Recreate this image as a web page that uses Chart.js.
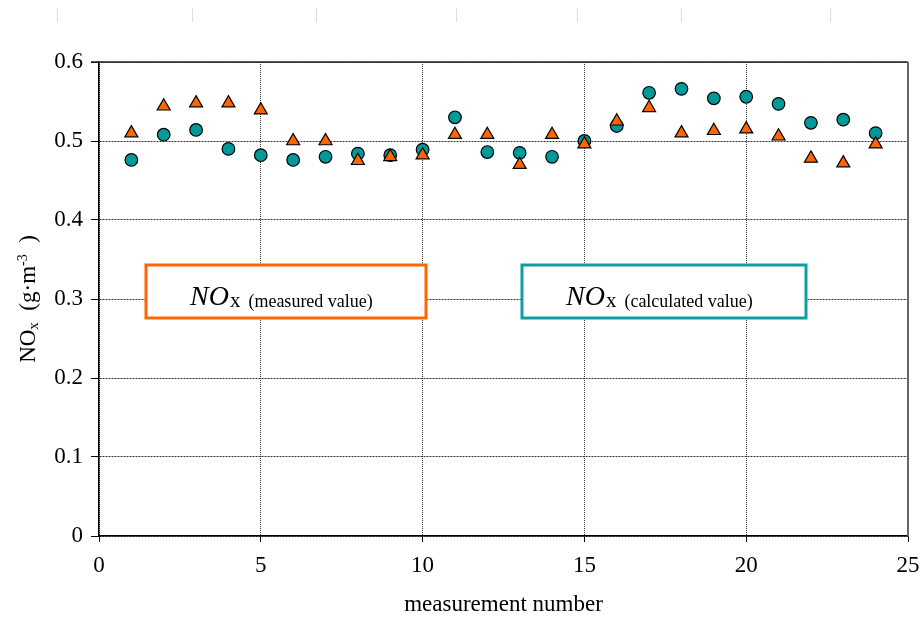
<!DOCTYPE html>
<html>
<head>
<meta charset="utf-8">
<script src="https://cdn.jsdelivr.net/npm/chart.js@4.4.1/dist/chart.umd.min.js"></script>
<style>
  html, body { margin: 0; padding: 0; background: #fff; }
  #wrap { width: 921px; height: 619px; }
</style>
</head>
<body>
<div id="wrap"><canvas id="c" width="921" height="619"></canvas></div>
<script>
const measurementNo = [1, 2, 3, 4, 5, 6, 7, 8, 9, 10, 11, 12, 13, 14, 15, 16, 17, 18, 19, 20, 21, 22, 23, 24];
const measuredNOx = [0.510, 0.544, 0.548, 0.548, 0.539, 0.500, 0.500, 0.475, 0.480, 0.482, 0.508, 0.508,
  0.470, 0.508, 0.496, 0.525, 0.542, 0.510, 0.513, 0.515, 0.506, 0.478, 0.472, 0.496];
const calculatedNOx = [0.476, 0.508, 0.514, 0.490, 0.482, 0.476, 0.480, 0.484, 0.482, 0.489, 0.530, 0.486,
  0.485, 0.480, 0.500, 0.519, 0.561, 0.566, 0.554, 0.556, 0.547, 0.523, 0.527, 0.510];
const xTicks = [0, 5, 10, 15, 20, 25];
const yTicks = [0, 0.1, 0.2, 0.3, 0.4, 0.5, 0.6];

const serif = '"Liberation Serif", "Times New Roman", serif';
const orange = '#ff6600';
const teal = '#009999';

const pts = vals => measurementNo.map((n, i) => ({ x: n, y: vals[i] }));

// boxes with labels, text with subscripts, frame lines
const extras = {
  id: 'extras',
  beforeDraw(chart) {
    const ctx = chart.ctx;
    ctx.save();
    ctx.strokeStyle = '#dcdcdc';
    ctx.lineWidth = 1;
    [57, 192, 316, 456, 577, 681, 830].forEach(x => {
      ctx.beginPath();
      ctx.moveTo(x + 0.5, 8);
      ctx.lineTo(x + 0.5, 22);
      ctx.stroke();
    });
    ctx.restore();
  },
  afterDatasetsDraw(chart) {
    const { ctx, chartArea: a } = chart;
    ctx.save();
    // frame: top dark, right grey
    ctx.lineWidth = 1.5;
    ctx.strokeStyle = '#222';
    ctx.beginPath();
    ctx.moveTo(a.left - 8, a.top);
    ctx.lineTo(a.right, a.top);
    ctx.stroke();
    ctx.strokeStyle = '#666';
    ctx.lineWidth = 2;
    ctx.beginPath();
    ctx.moveTo(a.right, a.top);
    ctx.lineTo(a.right, a.bottom);
    ctx.stroke();

    const box = (x, y, w, h, color, label) => {
      ctx.fillStyle = '#fff';
      ctx.fillRect(x, y, w, h);
      ctx.strokeStyle = color;
      ctx.lineWidth = 3;
      ctx.strokeRect(x, y, w, h);
      ctx.fillStyle = '#000';
      ctx.textBaseline = 'alphabetic';
      ctx.textAlign = 'left';
      let tx = x + 44;
      const by = y + 40;
      ctx.font = 'italic 28px ' + serif;
      ctx.fillText('NO', tx, by);
      tx += ctx.measureText('NO').width + 1;
      ctx.font = '21px ' + serif;
      ctx.fillText('x', tx, by + 2);
      tx += ctx.measureText('x').width + 8;
      ctx.font = '18px ' + serif;
      ctx.fillText(label, tx, by + 2);
    };
    box(146, 265, 280, 53, orange, '(measured value)');
    box(522, 265, 284, 53, '#119e9e', '(calculated value)');

    // y axis title
    ctx.translate(29, (a.top + a.bottom) / 2);
    ctx.rotate(-Math.PI / 2);
    const parts = [
      ['NO', '23px', 0],
      ['x', '15px', 5],
      ['  (g·m', '23px', 0],
      ['-3', '14px', -6],
      ['  )', '23px', 0]
    ];
    let total = 0;
    parts.forEach(p => { ctx.font = p[1] + ' ' + serif; total += ctx.measureText(p[0]).width; });
    let px = -total / 2;
    ctx.fillStyle = '#000';
    ctx.textBaseline = 'middle';
    parts.forEach(p => {
      ctx.font = p[1] + ' ' + serif;
      ctx.fillText(p[0], px, p[2]);
      px += ctx.measureText(p[0]).width;
    });
    ctx.restore();
  }
};

new Chart(document.getElementById('c'), {
  type: 'scatter',
  data: {
    datasets: [
      {
        label: 'NOx (measured value)',
        data: pts(measuredNOx),
        pointStyle: 'triangle',
        pointRadius: 7.5,
        pointHoverRadius: 7.5,
        backgroundColor: orange,
        borderColor: '#000',
        borderWidth: 1.2
      },
      {
        label: 'NOx (calculated value)',
        data: pts(calculatedNOx),
        pointStyle: 'circle',
        pointRadius: 6.3,
        pointHoverRadius: 6.3,
        backgroundColor: teal,
        borderColor: '#000',
        borderWidth: 1.2
      }
    ]
  },
  options: {
    responsive: false,
    animation: false,
    events: [],
    layout: { padding: { top: 62, right: 13, left: 0, bottom: 0 } },
    plugins: { legend: { display: false }, tooltip: { enabled: false } },
    scales: {
      x: {
        type: 'linear',
        min: 0,
        max: 25,
        afterBuildTicks: s => { s.ticks = xTicks.map(v => ({ value: v })); },
        afterFit: s => { s.height = 83; s.paddingLeft = 0; s.paddingRight = 0; },
        grid: { color: '#333', tickColor: '#000', tickLength: 6, tickBorderDash: [] },
        border: { color: '#000', width: 1.5, dash: [1, 1] },
        ticks: { color: '#000', padding: 10, font: { family: serif, size: 23 } },
        title: {
          display: true,
          text: 'measurement number',
          color: '#000',
          font: { family: serif, size: 23 },
          padding: { top: 0, bottom: 0 }
        }
      },
      y: {
        min: 0,
        max: 0.6,
        afterBuildTicks: s => { s.ticks = yTicks.map(v => ({ value: v })); },
        afterFit: s => { s.width = 99; s.paddingTop = 0; s.paddingBottom = 0; },
        grid: { color: '#333', tickColor: '#000', tickLength: 8, tickBorderDash: [] },
        border: { color: '#000', width: 1.5, dash: [2, 1] },
        ticks: {
          color: '#000',
          padding: 8,
          font: { family: serif, size: 23 },
          callback: v => (v === 0 ? '0' : v.toFixed(1))
        }
      }
    }
  },
  plugins: [extras]
});
</script>
</body>
</html>
